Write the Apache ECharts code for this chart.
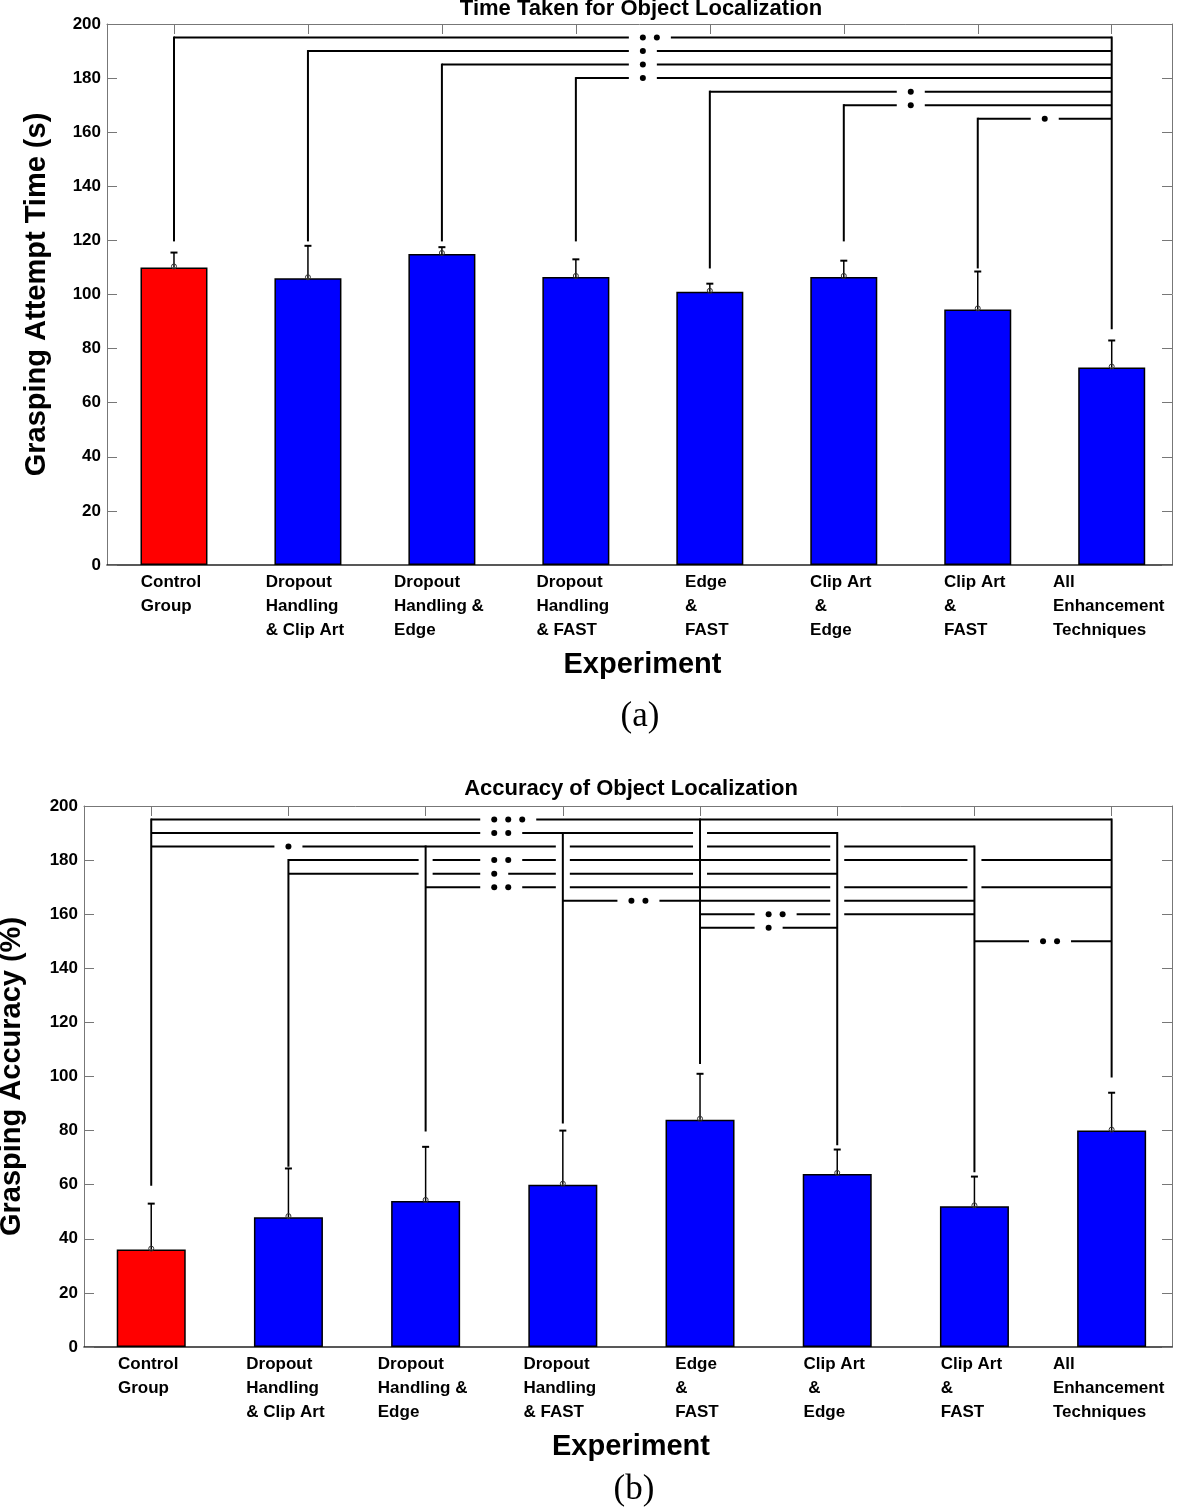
<!DOCTYPE html>
<html><head><meta charset="utf-8">
<script src="https://cdn.jsdelivr.net/npm/echarts@6/dist/echarts.min.js"></script>
<style>html,body{margin:0;padding:0;background:#fff}#c{width:1181px;height:1512px}</style>
</head><body><div id="c"></div>
<script>
// ---------------- data ----------------
const categories = ['Control\nGroup', 'Dropout\nHandling\n& Clip Art', 'Dropout\nHandling &\nEdge', 'Dropout\nHandling\n& FAST', 'Edge\n&\nFAST', 'Clip Art\n &\nEdge', 'Clip Art\n&\nFAST', 'All\nEnhancement\nTechniques'];
const yTickValues = [0, 20, 40, 60, 80, 100, 120, 140, 160, 180, 200];

// (a) Time taken (s)
const timeMeans  = [110, 106, 115, 106.5, 101, 106.5, 94.5, 73];
const timeErrors = [5.5, 12, 2.5, 6.5, 3, 6, 14, 10];
// brackets: [fromCat, toCat, level, numberOfDots, firstDotPosition]
const timeBrackets = [[0,7,195,2,3.5],[1,7,190,1,3.5],[2,7,185,1,3.5],[3,7,180,1,3.5],[4,7,175,1,5.5],[5,7,170,1,5.5],[6,7,165,1,6.5]];
const timeBracketGaps = [[],[],[],[],[],[],[]];
const timeLegBottom = [120,120,120,120,110,120,110,87.5];
const timeLegTop    = [195,190,185,180,175,170,165,195];

// (b) Accuracy (%)
const accMeans  = [36, 48, 54, 60, 84, 64, 52, 80];
const accErrors = [17, 18, 20, 20, 17, 9, 11, 14];
const accBrackets = [[0,7,195,3,2.5],[0,5,190,2,2.5],[0,6,185,1,1.0],[1,7,180,2,2.5],[1,5,175,1,2.5],[2,7,170,2,2.5],[3,6,165,2,3.5],[4,6,160,2,4.5],[4,5,155,1,4.5],[6,7,150,2,6.5]];
const accBracketGaps = [[],[4],[3,4,5],[2,3,5,6],[2,3,4],[3,5,6],[5],[5],[],[]];
const accLegBottom = [60,67,80,83,105,75,65,100];
const accLegTop    = [195,180,185,190,195,190,185,195];

// ---------------- helpers ----------------
const FONT = '"Liberation Sans", Arial, Helvetica, sans-serif';
const catIdx = categories.map((_, i) => i);

function labelFormatter(v) {
  const c = categories[Math.round(v)];
  if (c === undefined) return '';
  return c.split('\n').map(s => '{l|' + s + '}').join('\n');
}

function errRender(params, api) {
  const p0 = api.coord([api.value(0), api.value(1)]);
  const p1 = api.coord([api.value(0), api.value(2)]);
  return { type: 'group', children: [
    { type: 'line', shape: {x1: p0[0], y1: p0[1], x2: p1[0], y2: p1[1]}, style: {stroke: '#000', lineWidth: 1.5} },
    { type: 'line', shape: {x1: p1[0]-3.5, y1: p1[1], x2: p1[0]+3.5, y2: p1[1]}, style: {stroke: '#000', lineWidth: 2} },
    { type: 'circle', shape: {cx: p0[0], cy: p0[1]-1, r: 2.5}, style: {stroke: '#333', fill: null, lineWidth: 1} }
  ]};
}

function legRender(params, api) {
  const p0 = api.coord([api.value(0), api.value(1)]);
  const p1 = api.coord([api.value(0), api.value(2)]);
  return { type: 'line', shape: {x1: p0[0], y1: p0[1], x2: p1[0], y2: p1[1]}, style: {stroke: '#000', lineWidth: 2, lineCap: 'square'} };
}

function bracketRender(gapsList) {
  return function (params, api) {
    const from = api.value(0), to = api.value(1), lvl = api.value(2), nd = api.value(3), ds = api.value(4), idx = api.value(5);
    const a = api.coord([from, lvl]), b = api.coord([to, lvl]);
    const y = a[1];
    const d0 = api.coord([ds, lvl])[0];
    const SP = 14, PAD = 14, CROSS = 7;
    const cuts = [[d0 - PAD, d0 + (nd - 1) * SP + PAD]];
    gapsList[idx].forEach(c => { const cx = api.coord([c, lvl])[0]; cuts.push([cx - CROSS, cx + CROSS]); });
    cuts.sort((p, q) => p[0] - q[0]);
    const children = [];
    let x = a[0];
    const seg = (x1, x2) => ({ type: 'line', shape: {x1, y1: y, x2, y2: y}, style: {stroke: '#000', lineWidth: 2} });
    cuts.forEach(c => { if (c[0] > x) children.push(seg(x, c[0])); x = Math.max(x, c[1]); });
    if (x < b[0]) children.push(seg(x, b[0]));
    for (let k = 0; k < nd; k++) {
      children.push({ type: 'circle', shape: {cx: d0 + k * SP, cy: y, r: 3}, style: {fill: '#000'} });
    }
    return { type: 'group', children };
  };
}

function xAxes(gridIndex, min, max, name) {
  return [
    { type: 'value', gridIndex, min, max, position: 'bottom',
      name, nameLocation: 'middle', nameGap: 85,
      nameTextStyle: {fontFamily: FONT, fontSize: 29, fontWeight: 'bold', color: '#000', padding: [0, 0, 0, 6]},
      axisLine: {show: true, onZero: false, lineStyle: {color: '#222', width: 1.5}},
      axisTick: {show: false}, splitLine: {show: false},
      axisLabel: { customValues: catIdx, formatter: labelFormatter, margin: 5, color: '#000', padding: [0, 6, 0, 0],
        rich: { l: {align: 'left', fontFamily: FONT, fontSize: 17, fontWeight: 'bold', lineHeight: 24, color: '#000'} } } },
    { type: 'value', gridIndex, min, max, position: 'top',
      axisLine: {show: true, onZero: false, lineStyle: {color: '#777', width: 1}},
      axisTick: {show: true, inside: true, length: 10, customValues: catIdx, lineStyle: {color: '#777'}},
      axisLabel: {show: false}, splitLine: {show: false} }
  ];
}

function yAxes(gridIndex, name, nameGap) {
  return [
    { type: 'value', gridIndex, min: 0, max: 200, interval: 20, position: 'left',
      name, nameLocation: 'middle', nameGap,
      nameTextStyle: {fontFamily: FONT, fontSize: 29, fontWeight: 'bold', color: '#000'},
      axisLine: {show: true, onZero: false, lineStyle: {color: '#777', width: 1}},
      axisTick: {show: true, inside: true, length: 10, lineStyle: {color: '#777'}},
      axisLabel: {fontFamily: FONT, fontSize: 17, fontWeight: 'bold', color: '#000', margin: 6},
      splitLine: {show: false} },
    { type: 'value', gridIndex, min: 0, max: 200, interval: 20, position: 'right',
      axisLine: {show: true, onZero: false, lineStyle: {color: '#777', width: 1}},
      axisTick: {show: true, inside: true, length: 10, lineStyle: {color: '#777'}},
      axisLabel: {show: false}, splitLine: {show: false} }
  ];
}

function seriesFor(xi, yi, means, errors, barWidth, brackets, gaps, legBottom, legTop) {
  return [
    { type: 'bar', xAxisIndex: xi, yAxisIndex: yi, barWidth, z: 2,
      itemStyle: {borderColor: '#000', borderWidth: 1.5},
      data: means.map((m, i) => ({ value: [i, m], itemStyle: {color: i === 0 ? '#ff0000' : '#0000ff'} })) },
    { type: 'custom', xAxisIndex: xi, yAxisIndex: yi, z: 3, renderItem: errRender,
      encode: {x: 0, y: [1, 2]},
      data: means.map((m, i) => [i, m, m + errors[i]]) },
    { type: 'custom', xAxisIndex: xi, yAxisIndex: yi, z: 4, renderItem: legRender,
      encode: {x: 0, y: [1, 2]},
      data: legBottom.map((b, i) => [i, b, legTop[i]]) },
    { type: 'custom', xAxisIndex: xi, yAxisIndex: yi, z: 4, renderItem: bracketRender(gaps),
      encode: {x: [0, 1], y: 2},
      data: brackets.map((br, i) => [br[0], br[1], br[2], br[3], br[4], i]) }
  ];
}

const chart = echarts.init(document.getElementById('c'), null, {renderer: 'canvas'});
chart.setOption({
  animation: false,
  backgroundColor: '#fff',
  title: [
    { text: 'Time Taken for Object Localization', left: 641, top: -2, textAlign: 'center',
      textStyle: {fontFamily: FONT, fontSize: 22, fontWeight: 'bold', color: '#000'}, padding: 0 },
    { text: 'Accuracy of Object Localization', left: 631, top: 778, textAlign: 'center',
      textStyle: {fontFamily: FONT, fontSize: 22, fontWeight: 'bold', color: '#000'}, padding: 0 },
    { text: '(a)', left: 640, top: 699, textAlign: 'center',
      textStyle: {fontFamily: '"Liberation Serif", "Times New Roman", serif', fontSize: 35, fontWeight: 'normal', color: '#000'}, padding: 0 },
    { text: '(b)', left: 634, top: 1472, textAlign: 'center',
      textStyle: {fontFamily: '"Liberation Serif", "Times New Roman", serif', fontSize: 35, fontWeight: 'normal', color: '#000'}, padding: 0 }
  ],
  grid: [
    { left: 107, right: 9, top: 24, height: 541, outerBoundsMode: 'none', containLabel: false },
    { left: 84, right: 9, top: 806, height: 541, outerBoundsMode: 'none', containLabel: false }
  ],
  xAxis: [].concat(xAxes(0, -0.5, 7.45, 'Experiment'), xAxes(1, -0.49, 7.44, 'Experiment')),
  yAxis: [].concat(yAxes(0, 'Grasping Attempt Time (s)', 56), yAxes(1, 'Grasping Accuracy (%)', 58)),
  series: [].concat(
    seriesFor(0, 0, timeMeans, timeErrors, 67, timeBrackets, timeBracketGaps, timeLegBottom, timeLegTop),
    seriesFor(2, 2, accMeans, accErrors, 69, accBrackets, accBracketGaps, accLegBottom, accLegTop)
  )
});
</script>
</body></html>
